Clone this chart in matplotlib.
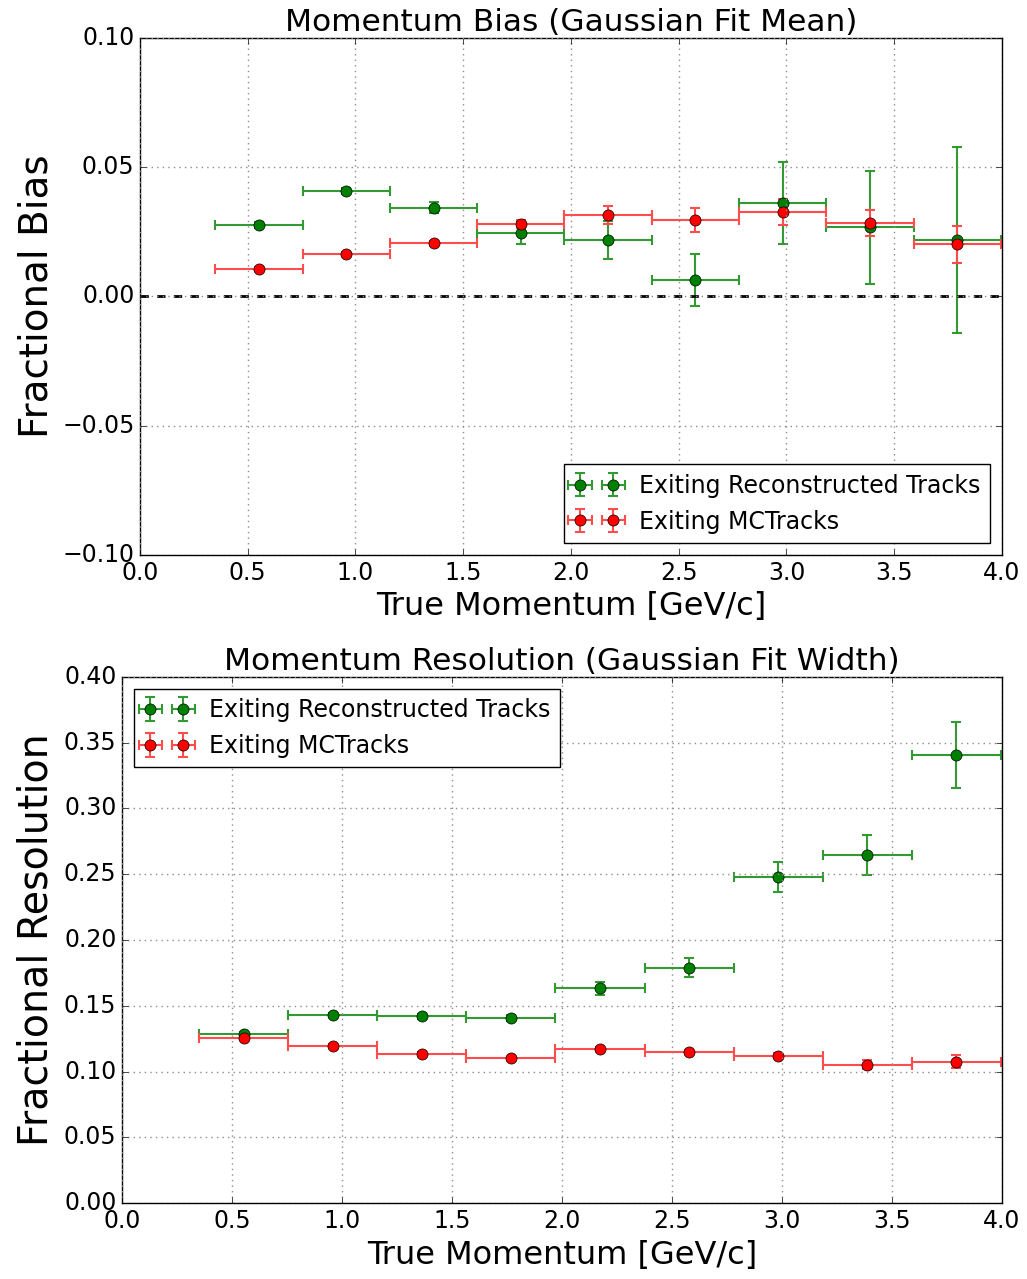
import numpy as np
import matplotlib
matplotlib.use("Agg")
import matplotlib.pyplot as plt
from matplotlib.ticker import FuncFormatter

plt.style.use("classic")

# momentum bins (GeV/c)
edges = np.array([0.35, 0.755, 1.16, 1.565, 1.97, 2.375, 2.78, 3.185, 3.59, 3.995])
centers = 0.5 * (edges[:-1] + edges[1:])
half_w = 0.5 * np.diff(edges)

# bias (gaussian fit mean)
bias_reco = [0.0277, 0.0409, 0.0344, 0.0247, 0.0219, 0.0063, 0.0362, 0.0268, 0.0219]
bias_reco_err = [0.0012, 0.0012, 0.0020, 0.0045, 0.0074, 0.0101, 0.0160, 0.0218, 0.0360]
bias_mc = [0.0105, 0.0164, 0.0206, 0.0279, 0.0314, 0.0296, 0.0327, 0.0284, 0.0202]
bias_mc_err = [0.0008, 0.0008, 0.0010, 0.0015, 0.0035, 0.0045, 0.0050, 0.0050, 0.0072]

# resolution (gaussian fit width)
res_reco = [0.1287, 0.1432, 0.1420, 0.1407, 0.1633, 0.1790, 0.2480, 0.2647, 0.3406]
res_reco_err = [0.0015, 0.0015, 0.0020, 0.0020, 0.0050, 0.0075, 0.0113, 0.0155, 0.0250]
res_mc = [0.1254, 0.1194, 0.1133, 0.1100, 0.1168, 0.1146, 0.1121, 0.1053, 0.1075]
res_mc_err = [0.0012, 0.0012, 0.0012, 0.0012, 0.0015, 0.0015, 0.0020, 0.0035, 0.0050]

fig = plt.figure(figsize=(10.27, 12.79), dpi=100, facecolor="white")
ax1 = fig.add_axes([0.1363, 0.5661, 0.8393, 0.4042])
ax2 = fig.add_axes([0.1188, 0.0594, 0.8569, 0.4113])

ebkw = dict(fmt="o", markersize=8, elinewidth=1.5, capsize=3.5, capthick=1.5)

#grafico 1: bias
ax1.errorbar(centers, bias_reco, xerr=half_w, yerr=bias_reco_err, color="g",
             ecolor=(0.2, 0.6, 0.2), label="Exiting Reconstructed Tracks", **ebkw)
ax1.errorbar(centers, bias_mc, xerr=half_w, yerr=bias_mc_err, color="r",
             ecolor=(1, 0.3, 0.3), label="Exiting MCTracks", **ebkw)
ax1.axhline(0.0, color="k", linestyle="--", linewidth=2)
ax1.set_xlim(0, 4)
ax1.set_ylim(-0.1, 0.1)
ax1.set_yticks(np.arange(-0.10, 0.101, 0.05))
ax1.set_title("Momentum Bias (Gaussian Fit Mean)", fontsize=22.5)
ax1.set_ylabel("Fractional Bias", fontsize=28)
ax1.set_xlabel("True Momentum [GeV/c]", fontsize=23)
ax1.legend(loc="lower right", numpoints=2, fontsize=17)

#grafico 2: resolution
ax2.errorbar(centers, res_reco, xerr=half_w, yerr=res_reco_err, color="g",
             ecolor=(0.2, 0.6, 0.2), label="Exiting Reconstructed Tracks", **ebkw)
ax2.errorbar(centers, res_mc, xerr=half_w, yerr=res_mc_err, color="r",
             ecolor=(1, 0.3, 0.3), label="Exiting MCTracks", **ebkw)
ax2.set_xlim(0, 4)
ax2.set_ylim(0, 0.4)
ax2.set_yticks(np.arange(0, 0.401, 0.05))
ax2.set_title("Momentum Resolution (Gaussian Fit Width)", fontsize=22.5)
ax2.set_ylabel("Fractional Resolution", fontsize=28.5)
ax2.set_xlabel("True Momentum [GeV/c]", fontsize=23)
ax2.legend(loc="upper left", numpoints=2, fontsize=17)

fmt_y = FuncFormatter(lambda v, p: ("%.2f" % v).replace("-", "\u2212"))
fmt_x = FuncFormatter(lambda v, p: "%.1f" % v)
for ax in (ax1, ax2):
    ax.grid(True, color="0.55", linestyle=":", linewidth=1)
    ax.tick_params(labelsize=17)
    ax.yaxis.set_major_formatter(fmt_y)
    ax.set_xticks(np.arange(0, 4.01, 0.5))
    ax.xaxis.set_major_formatter(fmt_x)

fig.savefig("out.png", dpi=100, facecolor="white")
